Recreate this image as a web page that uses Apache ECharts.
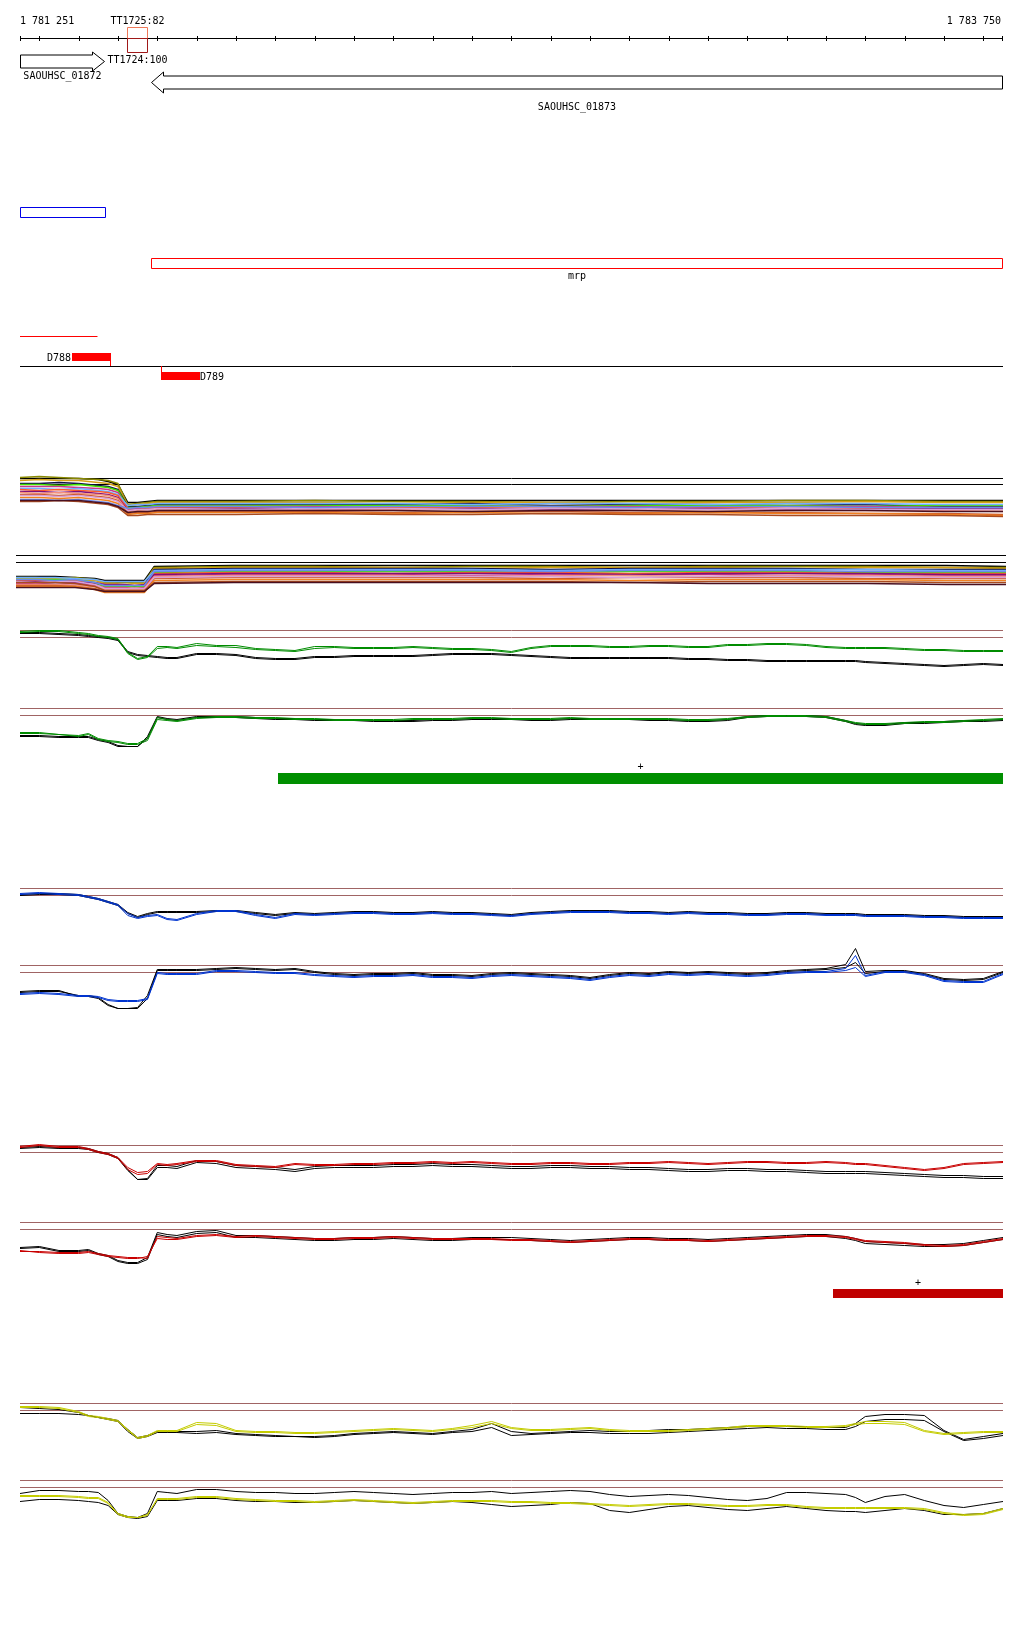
<!DOCTYPE html>
<html><head><meta charset="utf-8">
<script src="https://cdn.jsdelivr.net/npm/echarts@6/dist/echarts.min.js"></script>
<style>html,body{margin:0;padding:0;background:#fff}#c{width:1024px;height:1640px}</style>
</head><body><div id="c"></div><script>
// ---------------- data ----------------
const START = 1781251, END = 1783750;
const RULER_TICKS = [1781251,1781300,1781400,1781500,1781600,1781700,1781800,1781900,1782000,1782100,1782200,1782300,1782400,1782500,1782600,1782700,1782800,1782900,1783000,1783100,1783200,1783300,1783400,1783500,1783600,1783700,1783750];
const GENE_NAMES = ['SAOUHSC_01872','SAOUHSC_01873'];
const GENE_START = [1781251,1781583];
const GENE_END = [1781465,1783750];
const GENE_STRAND = ['+','-'];
const TERM_NAMES = ['TT1725:82','TT1724:100'];
const TERM_START = [1781523,1781523];
const TERM_END = [1781573,1781573];
const TERM_STRAND = ['+','-'];
const BLUE_REGION = [1781251,1781467];
const OPERON_NAME = 'mrp';
const OPERON = [1781583,1783750];
const RED_SEGMENT = [1781251,1781448];
const PROBE_NAMES = ['D788','D789'];
const PROBE_START = [1781383,1781609];
const PROBE_END = [1781482,1781709];
const PROBE_STRAND = ['+','-'];
const GREEN_FEATURE = [1781907,1783750];
const RED_FEATURE = [1783318,1783750];
const FEATURE_LABEL = '+';
const THRESH = [0,-7];
const THRESH_A = [0,-6];

const MC_POS = [1781251,1781300,1781350,1781400,1781450,1781475,1781500,1781525,1781550,1781575,1781600,1781800,1782000,1782200,1782400,1782600,1782800,1783000,1783200,1783400,1783600,1783750];
const MULTI_A = [
[0,0,0,0,-1,-3,-6,-24,-24,-23,-22,-22,-22,-22,-22,-22,-22,-22,-22,-22,-22,-22],
[1,2,1,0,-1,-2,-5,-26,-25,-24,-23,-23,-22,-23,-23,-24,-23,-23,-22,-22,-23,-23],
[-2,-1,-2,-2,-4,-5,-8,-27,-26,-25,-24,-24,-24,-25,-24,-24,-25,-24,-24,-23,-24,-24],
[-5,-5,-4,-5,-7,-8,-11,-28,-28,-27,-26,-26,-26,-26,-25,-27,-26,-26,-27,-26,-28,-28],
[-6,-6,-7,-6,-8,-9,-12,-29,-29,-28,-27,-27,-27,-27,-27,-28,-27,-27,-27,-28,-27,-27],
[-8,-8,-8,-9,-10,-11,-14,-30,-30,-29,-28,-28,-28,-29,-28,-28,-28,-29,-28,-28,-29,-29],
[-10,-10,-11,-10,-12,-13,-16,-27,-26,-26,-25,-25,-25,-25,-26,-25,-25,-26,-25,-25,-26,-26],
[-11,-12,-11,-12,-13,-14,-17,-31,-31,-30,-29,-29,-30,-29,-29,-30,-29,-29,-30,-30,-31,-31],
[-13,-13,-14,-13,-15,-16,-19,-32,-31,-31,-30,-30,-30,-31,-30,-31,-30,-30,-31,-31,-30,-30],
[-14,-15,-14,-15,-16,-17,-20,-33,-32,-31,-31,-31,-32,-31,-31,-32,-32,-31,-32,-32,-32,-33],
[-16,-16,-17,-16,-18,-19,-22,-35,-34,-34,-33,-33,-33,-34,-33,-33,-34,-34,-34,-35,-35,-36],
[-17,-17,-18,-17,-19,-20,-23,-32,-31,-31,-30,-31,-30,-30,-31,-30,-30,-31,-30,-31,-31,-31],
[-19,-19,-20,-19,-21,-22,-25,-36,-35,-35,-34,-34,-34,-35,-34,-35,-35,-34,-35,-35,-36,-37],
[-21,-21,-22,-21,-23,-24,-27,-30,-29,-29,-28,-28,-29,-28,-28,-28,-29,-28,-28,-29,-29,-29],
[-23,-23,-22,-23,-25,-26,-29,-37,-37,-36,-36,-36,-35,-36,-36,-35,-36,-36,-37,-37,-37,-38],
[-22,-22,-22,-22,-24,-25,-28,-34,-33,-33,-32,-32,-32,-32,-33,-32,-32,-33,-32,-32,-33,-33]
];
const MULTI_B = [
[-21,-21,-21,-22,-23,-25,-25,-25,-25,-25,-11,-10,-10,-10,-10,-10,-10,-10,-10,-10,-10,-11],
[-22,-22,-23,-22,-24,-27,-27,-27,-27,-27,-12,-11,-11,-12,-11,-11,-12,-11,-11,-11,-12,-12],
[-23,-23,-23,-24,-25,-28,-28,-29,-28,-28,-13,-12,-12,-12,-13,-12,-12,-12,-13,-12,-12,-13],
[-27,-28,-27,-27,-28,-30,-30,-30,-31,-30,-14,-13,-13,-13,-13,-14,-13,-13,-13,-14,-14,-14],
[-24,-24,-24,-24,-27,-31,-31,-31,-31,-31,-17,-16,-16,-16,-16,-17,-16,-16,-16,-17,-17,-17],
[-28,-28,-29,-28,-30,-32,-32,-32,-33,-32,-20,-19,-19,-19,-20,-19,-19,-19,-20,-19,-20,-20],
[-22,-22,-22,-23,-24,-26,-26,-26,-26,-26,-15,-14,-14,-14,-14,-15,-14,-14,-14,-14,-15,-15],
[-25,-25,-26,-25,-29,-33,-33,-33,-33,-33,-18,-17,-17,-18,-17,-17,-18,-17,-17,-18,-18,-18],
[-26,-26,-26,-27,-27,-29,-29,-29,-30,-29,-19,-18,-18,-18,-18,-18,-19,-18,-18,-18,-19,-19],
[-29,-29,-29,-30,-31,-34,-34,-34,-34,-34,-21,-20,-20,-20,-21,-20,-20,-21,-20,-20,-21,-21],
[-30,-30,-30,-31,-33,-36,-36,-36,-36,-36,-23,-22,-22,-22,-22,-23,-22,-22,-22,-23,-23,-23],
[-26,-27,-26,-26,-29,-33,-33,-33,-33,-33,-22,-21,-21,-21,-21,-21,-22,-21,-21,-21,-22,-22],
[-31,-31,-31,-31,-34,-37,-37,-37,-37,-37,-25,-24,-24,-24,-24,-24,-25,-24,-24,-24,-25,-25],
[-24,-24,-25,-24,-27,-30,-30,-30,-30,-30,-16,-15,-15,-15,-15,-16,-15,-15,-15,-16,-16,-16],
[-27,-27,-27,-28,-31,-35,-35,-35,-35,-35,-27,-26,-26,-26,-26,-26,-27,-26,-26,-26,-27,-27],
[-32,-32,-32,-32,-34,-36,-36,-36,-36,-36,-28,-27,-27,-27,-27,-27,-27,-28,-28,-28,-29,-29]
];

const POS = [1781251,1781300,1781350,1781400,1781425,1781450,1781475,1781500,1781525,1781550,1781575,1781600,1781625,1781650,1781700,1781750,1781800,1781850,1781900,1781950,1782000,1782050,1782100,1782150,1782200,1782250,1782300,1782350,1782400,1782450,1782500,1782550,1782600,1782650,1782700,1782750,1782800,1782850,1782900,1782950,1783000,1783050,1783100,1783150,1783200,1783250,1783300,1783350,1783375,1783400,1783450,1783500,1783550,1783600,1783650,1783700,1783750];

const GREEN_A_1 = [-1,0,0,-2,-3,-5,-6,-8,-22,-28,-26,-16,-16,-17,-13,-15,-15,-18,-19,-20,-16,-16,-17,-17,-17,-16,-17,-18,-18,-19,-21,-17,-15,-15,-15,-16,-16,-15,-15,-16,-16,-14,-14,-13,-13,-14,-16,-17,-17,-17,-17,-18,-19,-19,-20,-20,-20];
const GREEN_A_2 = [-2,-1,-1,-3,-4,-6,-7,-9,-23,-29,-27,-18,-17,-18,-15,-16,-17,-19,-20,-21,-18,-17,-18,-18,-18,-17,-18,-19,-19,-20,-22,-18,-16,-16,-16,-17,-17,-16,-16,-17,-17,-15,-15,-14,-14,-15,-17,-18,-18,-18,-18,-19,-20,-20,-21,-21,-21];
const GREEN_A_REF1 = [-2,-2,-3,-4,-5,-6,-7,-9,-21,-24,-25,-26,-27,-27,-23,-23,-24,-27,-28,-28,-26,-26,-25,-25,-25,-25,-24,-23,-23,-23,-24,-25,-26,-27,-27,-27,-27,-27,-27,-28,-28,-29,-29,-30,-30,-30,-30,-30,-30,-31,-32,-33,-34,-35,-34,-33,-34];
const GREEN_A_REF2 = [-3,-3,-4,-5,-6,-7,-8,-10,-22,-25,-26,-27,-28,-28,-24,-24,-25,-28,-29,-29,-27,-27,-26,-26,-26,-26,-25,-24,-24,-24,-25,-26,-27,-28,-28,-28,-28,-28,-28,-29,-29,-30,-30,-31,-31,-31,-31,-31,-31,-32,-33,-34,-35,-36,-35,-34,-35];
const GREEN_B_1 = [-24,-24,-26,-27,-25,-30,-32,-33,-35,-35,-30,-9,-11,-12,-9,-8,-8,-9,-9,-10,-10,-11,-11,-11,-11,-10,-10,-10,-9,-9,-10,-10,-10,-9,-10,-10,-10,-10,-10,-11,-11,-10,-8,-7,-7,-7,-8,-12,-14,-15,-15,-14,-13,-13,-12,-11,-10];
const GREEN_B_2 = [-25,-25,-26,-28,-26,-31,-33,-34,-36,-36,-32,-11,-12,-13,-10,-9,-9,-10,-10,-11,-11,-12,-12,-12,-12,-11,-11,-11,-10,-10,-11,-11,-11,-10,-11,-11,-11,-11,-11,-12,-12,-11,-9,-8,-8,-8,-9,-13,-15,-16,-16,-15,-14,-14,-13,-12,-11];
const GREEN_B_REF1 = [-27,-27,-28,-28,-28,-31,-33,-37,-38,-38,-28,-8,-10,-11,-8,-8,-8,-9,-10,-10,-11,-11,-11,-12,-12,-12,-11,-11,-10,-10,-10,-11,-11,-10,-10,-10,-10,-11,-11,-12,-12,-11,-8,-7,-7,-7,-8,-12,-15,-16,-16,-14,-14,-13,-12,-12,-11];
const GREEN_B_REF2 = [-28,-28,-29,-29,-29,-32,-34,-38,-38,-38,-30,-9,-11,-12,-9,-9,-9,-10,-11,-11,-12,-12,-12,-13,-13,-13,-12,-12,-11,-11,-11,-12,-12,-11,-11,-11,-11,-12,-12,-13,-13,-12,-9,-8,-8,-8,-9,-13,-16,-17,-17,-15,-15,-14,-13,-13,-12];

const BLUE_A_1 = [-5,-4,-5,-6,-8,-10,-13,-16,-25,-29,-27,-26,-30,-31,-25,-22,-22,-26,-29,-25,-26,-25,-24,-24,-25,-25,-24,-25,-25,-26,-27,-25,-24,-23,-23,-23,-24,-24,-25,-24,-25,-25,-26,-26,-25,-25,-26,-26,-26,-27,-27,-27,-28,-28,-29,-29,-29];
const BLUE_A_2 = [-6,-5,-6,-7,-9,-11,-14,-17,-27,-30,-28,-27,-31,-32,-26,-23,-23,-27,-30,-26,-27,-26,-25,-25,-26,-26,-25,-26,-26,-27,-28,-26,-25,-24,-24,-24,-25,-25,-26,-25,-26,-26,-27,-27,-26,-26,-27,-27,-27,-28,-28,-28,-29,-29,-30,-30,-30];
const BLUE_A_REF1 = [-6,-5,-5,-6,-8,-10,-13,-16,-24,-28,-25,-23,-23,-23,-23,-22,-22,-24,-26,-24,-25,-24,-23,-23,-24,-24,-23,-24,-24,-25,-26,-24,-23,-22,-22,-22,-23,-23,-24,-23,-24,-24,-25,-25,-24,-24,-25,-25,-25,-26,-26,-26,-27,-27,-28,-28,-28];
const BLUE_A_REF2 = [-7,-6,-6,-7,-9,-11,-14,-17,-25,-29,-26,-24,-24,-24,-24,-23,-23,-25,-27,-25,-26,-25,-24,-24,-25,-25,-24,-25,-25,-26,-27,-25,-24,-23,-23,-23,-24,-24,-25,-24,-25,-25,-26,-26,-25,-25,-26,-26,-26,-27,-27,-27,-28,-28,-29,-29,-29];
const BLUE_B_1 = [-28,-27,-28,-30,-30,-31,-34,-35,-35,-35,-33,-7,-8,-8,-8,-5,-5,-6,-7,-7,-9,-10,-11,-10,-10,-9,-11,-11,-12,-10,-9,-10,-11,-12,-14,-11,-9,-10,-8,-9,-8,-9,-10,-9,-7,-6,-6,-3,10,-10,-6,-6,-9,-15,-16,-16,-8];
const BLUE_B_2 = [-29,-28,-29,-31,-31,-32,-35,-36,-36,-36,-34,-8,-9,-9,-9,-6,-6,-7,-8,-8,-10,-11,-12,-11,-11,-10,-12,-12,-13,-11,-10,-11,-12,-13,-15,-12,-10,-11,-9,-10,-9,-10,-11,-10,-8,-7,-7,-5,-2,-11,-7,-7,-10,-16,-17,-17,-9];
const BLUE_B_REF1 = [-26,-25,-25,-31,-30,-32,-39,-43,-43,-42,-30,-4,-4,-4,-4,-3,-2,-3,-4,-3,-6,-8,-9,-8,-8,-7,-9,-9,-10,-8,-7,-8,-9,-10,-12,-9,-7,-8,-6,-7,-6,-7,-8,-7,-5,-4,-3,1,17,-6,-5,-5,-8,-13,-14,-13,-6];
const BLUE_B_REF2 = [-27,-26,-26,-30,-31,-33,-40,-43,-43,-43,-33,-5,-5,-5,-5,-4,-3,-4,-5,-4,-7,-9,-10,-9,-9,-8,-10,-10,-11,-9,-8,-9,-10,-11,-13,-10,-8,-9,-7,-8,-7,-8,-9,-8,-6,-5,-4,-2,3,-8,-6,-6,-9,-14,-15,-14,-7];

const RED_A_1 = [-1,1,-1,-1,-3,-6,-8,-12,-22,-27,-26,-18,-19,-18,-15,-15,-19,-20,-21,-18,-19,-19,-18,-18,-17,-17,-16,-17,-16,-17,-18,-18,-17,-17,-18,-18,-17,-17,-16,-17,-18,-17,-16,-16,-17,-17,-16,-17,-18,-18,-20,-22,-24,-22,-18,-17,-16];
const RED_A_2 = [-2,0,-2,-2,-4,-7,-9,-13,-24,-29,-28,-19,-20,-19,-16,-16,-20,-21,-22,-19,-20,-20,-19,-19,-18,-18,-17,-18,-17,-18,-19,-19,-18,-18,-19,-19,-18,-18,-17,-18,-19,-18,-17,-17,-18,-18,-17,-18,-19,-19,-21,-23,-25,-23,-19,-18,-17];
const RED_A_REF1 = [-2,-1,-2,-2,-3,-6,-8,-12,-24,-34,-33,-20,-20,-21,-15,-16,-20,-21,-22,-24,-21,-20,-20,-20,-19,-19,-18,-19,-19,-20,-21,-21,-20,-20,-21,-21,-22,-22,-23,-24,-24,-23,-23,-24,-24,-25,-26,-26,-26,-26,-27,-28,-29,-30,-30,-31,-31];
const RED_A_REF2 = [-3,-2,-3,-3,-4,-7,-9,-13,-25,-34,-34,-22,-22,-23,-17,-18,-22,-23,-24,-26,-23,-22,-22,-22,-21,-21,-20,-21,-21,-22,-23,-23,-22,-22,-23,-23,-24,-24,-25,-26,-26,-25,-25,-26,-26,-27,-28,-28,-28,-28,-29,-30,-31,-32,-32,-33,-33];
const RED_B_1 = [-29,-29,-30,-30,-29,-31,-33,-34,-35,-35,-36,-14,-15,-16,-13,-12,-14,-13,-14,-15,-16,-16,-15,-15,-14,-15,-16,-16,-16,-16,-17,-17,-18,-19,-18,-17,-16,-16,-17,-17,-18,-17,-16,-15,-14,-13,-13,-14,-16,-18,-19,-20,-22,-23,-22,-19,-16];
const RED_B_2 = [-28,-30,-31,-31,-30,-32,-34,-35,-36,-36,-34,-16,-17,-17,-14,-13,-15,-14,-15,-16,-17,-17,-16,-16,-15,-16,-17,-17,-17,-17,-18,-18,-19,-20,-19,-18,-17,-17,-18,-18,-19,-18,-17,-16,-15,-14,-14,-15,-17,-19,-20,-21,-23,-24,-23,-20,-17];
const RED_B_REF1 = [-25,-24,-28,-28,-27,-31,-33,-38,-40,-40,-35,-10,-12,-13,-9,-8,-13,-13,-14,-15,-16,-16,-15,-15,-14,-15,-16,-16,-15,-15,-15,-16,-17,-18,-17,-16,-15,-15,-16,-16,-17,-16,-15,-14,-13,-12,-12,-14,-16,-19,-20,-21,-22,-22,-21,-18,-15];
const RED_B_REF2 = [-26,-25,-29,-29,-28,-32,-34,-39,-41,-41,-37,-12,-14,-15,-11,-10,-15,-15,-16,-17,-18,-18,-17,-17,-16,-17,-18,-18,-17,-17,-17,-18,-19,-20,-19,-18,-17,-17,-18,-18,-19,-18,-17,-16,-15,-14,-14,-16,-18,-21,-22,-23,-24,-24,-23,-20,-17];

const YEL_A_1 = [-3,-3,-4,-8,-12,-13,-15,-17,-26,-34,-32,-27,-27,-27,-19,-20,-27,-28,-28,-29,-29,-28,-27,-26,-25,-26,-27,-25,-22,-18,-24,-26,-26,-25,-24,-26,-27,-27,-27,-26,-25,-24,-22,-22,-22,-23,-23,-22,-20,-18,-18,-19,-27,-30,-29,-28,-28];
const YEL_A_2 = [-4,-4,-5,-9,-13,-14,-16,-18,-27,-35,-33,-28,-28,-28,-21,-22,-28,-29,-29,-30,-30,-29,-28,-27,-26,-27,-28,-26,-24,-20,-25,-27,-27,-26,-25,-27,-28,-28,-28,-27,-26,-25,-23,-23,-23,-24,-24,-23,-21,-20,-20,-21,-28,-31,-30,-29,-29];
const YEL_A_REF1 = [-4,-5,-6,-9,-12,-14,-15,-17,-26,-34,-32,-28,-28,-28,-28,-27,-30,-31,-32,-33,-33,-32,-30,-29,-28,-29,-30,-28,-26,-20,-28,-30,-29,-28,-27,-28,-28,-27,-26,-26,-25,-24,-23,-23,-23,-23,-24,-24,-20,-13,-11,-11,-12,-27,-36,-33,-30];
const YEL_A_REF2 = [-10,-10,-10,-11,-12,-14,-16,-18,-28,-35,-33,-29,-29,-29,-30,-29,-31,-32,-33,-33,-34,-33,-31,-30,-29,-30,-31,-29,-28,-24,-32,-31,-30,-29,-29,-30,-30,-30,-29,-28,-27,-26,-25,-24,-25,-25,-26,-26,-23,-18,-16,-16,-17,-28,-37,-35,-32];
const YEL_B_1 = [-15,-15,-15,-16,-17,-17,-22,-33,-36,-37,-35,-18,-18,-18,-16,-16,-18,-19,-20,-20,-21,-20,-19,-20,-21,-22,-21,-20,-20,-20,-21,-21,-22,-22,-23,-24,-25,-24,-23,-23,-24,-25,-25,-24,-24,-26,-27,-27,-27,-27,-27,-27,-28,-32,-34,-33,-28];
const YEL_B_2 = [-16,-16,-16,-17,-18,-18,-23,-34,-37,-37,-34,-19,-19,-19,-17,-17,-19,-20,-21,-21,-22,-21,-20,-21,-22,-23,-22,-21,-21,-21,-22,-22,-23,-23,-24,-25,-26,-25,-24,-24,-25,-26,-26,-25,-25,-27,-28,-28,-28,-28,-28,-28,-29,-33,-35,-34,-29];
const YEL_B_REF1 = [-13,-10,-10,-11,-11,-12,-20,-33,-36,-37,-33,-11,-12,-13,-9,-9,-11,-12,-12,-13,-13,-12,-11,-12,-13,-14,-13,-12,-12,-11,-13,-12,-11,-10,-11,-14,-16,-15,-14,-15,-17,-19,-20,-18,-12,-12,-13,-14,-17,-22,-16,-14,-20,-25,-27,-24,-21];
const YEL_B_REF2 = [-21,-19,-19,-20,-21,-22,-25,-34,-37,-38,-36,-20,-20,-20,-18,-18,-20,-21,-21,-22,-22,-21,-20,-21,-22,-23,-22,-21,-22,-24,-26,-25,-24,-22,-23,-30,-32,-29,-26,-25,-27,-29,-30,-28,-26,-28,-30,-31,-31,-32,-30,-28,-30,-34,-34,-33,-28];

// ---------------- styles / layout ----------------
const FONT = '10px "DejaVu Sans Mono", "Liberation Mono", monospace';
const CHAR_W = 6.02;
const BROWN = '#a06464';
const MC_COLORS = ['#000000','#8a8a00','#d4a017','#101048','#44e000','#c8388c','#70b0ff','#ff5a28','#80107a','#f4907c','#cc5a2c','#d8a0d8','#f08020','#6a8ae8','#a84a20','#4a1020'];

const grids = [], xAxes = [], yAxes = [], series = [];
function addGrid(top, height, ymin, ymax, left, right) {
  const i = grids.length;
  grids.push({left: left == null ? 20 : left, right: right == null ? 21 : right, top, height, show: false});
  xAxes.push({type: 'value', gridIndex: i, min: START, max: END, show: false});
  yAxes.push({type: 'value', gridIndex: i, min: ymin, max: ymax, show: false});
  return i;
}
const snap = v => Math.round(v) + 0.5;
function xOf(api, v) { return api.coord([v, 0])[0]; }
function txt(x, y, text, align, color) {
  return {type: 'text', x, y: y + 1, style: {text, fill: color || '#000', font: FONT, align: align || 'center', verticalAlign: 'middle', textAlign: align || 'center', textVerticalAlign: 'middle'}};
}
function custom(gi, data, renderItem, z) {
  series.push({type: 'custom', xAxisIndex: gi, yAxisIndex: gi, data, renderItem, silent: true, animation: false, clip: false, z: z || 2});
}
const fmt = n => String(n).replace(/\B(?=(\d{3})+(?!\d))/g, ' ');

// ruler
const gR = addGrid(27, 25, 0, 1);
custom(gR, [[START, END]], (p, api) => {
  const cs = p.coordSys, y = snap(cs.y + 11);
  const x0 = xOf(api, api.value(0)), x1 = xOf(api, api.value(1));
  return {type: 'group', children: [
    {type: 'line', shape: {x1: x0, y1: y, x2: x1, y2: y}, style: {stroke: '#000', lineWidth: 1}},
    txt(x0, cs.y - 6.5, fmt(api.value(0)), 'left'),
    txt(x1 - 2, cs.y - 6.5, fmt(api.value(1)), 'right')
  ]};
});
custom(gR, RULER_TICKS.map(v => [v]), (p, api) => {
  const cs = p.coordSys, x = snap(Math.min(xOf(api, api.value(0)), cs.x + cs.width - 0.6));
  return {type: 'line', shape: {x1: x, y1: cs.y + 9, x2: x, y2: cs.y + 14}, style: {stroke: '#000', lineWidth: 1}};
});
custom(gR, TERM_START.map((s, i) => [s, TERM_END[i]]), (p, api) => {
  const cs = p.coordSys, i = p.dataIndex;
  const x0 = snap(xOf(api, api.value(0))), x1 = snap(xOf(api, api.value(1)));
  const plus = TERM_STRAND[i] === '+';
  const y0 = plus ? cs.y + 0.5 : cs.y + 11.5, y1 = plus ? cs.y + 11.5 : cs.y + 25.5;
  const col = plus ? '#f07858' : '#a01818';
  return {type: 'group', children: [
    {type: 'rect', shape: {x: x0, y: y0, width: x1 - x0, height: y1 - y0}, style: {fill: null, stroke: col, lineWidth: 1}},
    txt((x0 + x1) / 2, plus ? cs.y - 6.5 : cs.y + 32.5, TERM_NAMES[i])
  ]};
}, 5);

// genes
const gG = addGrid(48, 62, 0, 1);
custom(gG, GENE_START.map((s, i) => [s, GENE_END[i]]), (p, api) => {
  const cs = p.coordSys, i = p.dataIndex;
  const x0 = snap(xOf(api, api.value(0))), x1 = snap(xOf(api, api.value(1)) - 0.6);
  const plus = GENE_STRAND[i] === '+';
  const cy = plus ? cs.y + 13.5 : cs.y + 34.5;
  const bh = 6.5, hh = plus ? 9.5 : 10.5, hl = 12;
  let pts;
  if (plus) { const xh = x1 - hl; pts = [[x0, cy - bh], [xh, cy - bh], [xh, cy - hh], [x1, cy], [xh, cy + hh], [xh, cy + bh], [x0, cy + bh]]; }
  else { const xh = x0 + hl; pts = [[x1, cy - bh], [xh, cy - bh], [xh, cy - hh], [x0, cy], [xh, cy + hh], [xh, cy + bh], [x1, cy + bh]]; }
  const name = GENE_NAMES[i], w = name.length * CHAR_W;
  let cx = (x0 + x1) / 2; if (cx - w / 2 < cs.x + 2) cx = cs.x + 2 + w / 2;
  return {type: 'group', children: [
    {type: 'polygon', shape: {points: pts}, style: {fill: '#fff', stroke: '#000', lineWidth: 1}},
    txt(cx, plus ? cs.y + 27.5 : cs.y + 58, name)
  ]};
});

// blue region
const gB = addGrid(207, 10, 0, 1);
custom(gB, [BLUE_REGION], (p, api) => {
  const cs = p.coordSys, x0 = snap(xOf(api, api.value(0))), x1 = snap(xOf(api, api.value(1)));
  return {type: 'rect', shape: {x: x0, y: cs.y + 0.5, width: x1 - x0, height: 10}, style: {fill: null, stroke: '#0000e8', lineWidth: 1}};
});

// operon
const gO = addGrid(258, 10, 0, 1);
custom(gO, [OPERON], (p, api) => {
  const cs = p.coordSys, x0 = snap(xOf(api, api.value(0))), x1 = snap(xOf(api, api.value(1)) - 0.6);
  return {type: 'group', children: [
    {type: 'rect', shape: {x: x0, y: cs.y + 0.5, width: x1 - x0, height: 10}, style: {fill: null, stroke: '#ff0000', lineWidth: 1}},
    txt((x0 + x1) / 2, cs.y + 17, OPERON_NAME)
  ]};
});

// probes
const gP = addGrid(320, 62, 0, 1);
custom(gP, [RED_SEGMENT], (p, api) => {
  const cs = p.coordSys, y = snap(cs.y + 16);
  return {type: 'line', shape: {x1: xOf(api, api.value(0)), y1: y, x2: xOf(api, api.value(1)), y2: y}, style: {stroke: '#ff0000', lineWidth: 1}};
});
custom(gP, [[START, END]], (p, api) => {
  const cs = p.coordSys, y = snap(cs.y + 46);
  return {type: 'line', shape: {x1: xOf(api, api.value(0)), y1: y, x2: xOf(api, api.value(1)), y2: y}, style: {stroke: '#000', lineWidth: 1}};
});
custom(gP, PROBE_START.map((s, i) => [s, PROBE_END[i]]), (p, api) => {
  const cs = p.coordSys, i = p.dataIndex;
  const x0 = Math.round(xOf(api, api.value(0))), x1 = Math.round(xOf(api, api.value(1)));
  const plus = PROBE_STRAND[i] === '+';
  const base = cs.y + 46;
  if (plus) {
    return {type: 'group', children: [
      {type: 'rect', shape: {x: x0, y: cs.y + 33, width: x1 - x0, height: 8}, style: {fill: '#ff0000'}},
      {type: 'line', shape: {x1: x1 - 0.5, y1: cs.y + 41, x2: x1 - 0.5, y2: base}, style: {stroke: '#ff0000', lineWidth: 1}},
      txt(x0 - 1, cs.y + 37.5, PROBE_NAMES[i], 'right')
    ]};
  }
  return {type: 'group', children: [
    {type: 'rect', shape: {x: x0, y: cs.y + 52, width: x1 - x0, height: 8}, style: {fill: '#ff0000'}},
    {type: 'line', shape: {x1: x0 + 0.5, y1: base, x2: x0 + 0.5, y2: cs.y + 52}, style: {stroke: '#ff0000', lineWidth: 1}},
    txt(x1, cs.y + 56, PROBE_NAMES[i], 'left')
  ]};
});

// feature bars
function featureBar(top, h, range, color) {
  const g = addGrid(top, h, 0, 1);
  custom(g, [range], (p, api) => {
    const cs = p.coordSys, x0 = Math.round(xOf(api, api.value(0))), x1 = Math.round(xOf(api, api.value(1)));
    return {type: 'group', children: [
      {type: 'rect', shape: {x: x0, y: cs.y, width: x1 - x0, height: cs.height}, style: {fill: color}},
      txt((x0 + x1) / 2, cs.y - 7, FEATURE_LABEL)
    ]};
  });
}
featureBar(773, 11, GREEN_FEATURE, '#008f00');
featureBar(1289, 9, RED_FEATURE, '#c00000');

// expression panels
function panel(threshY, pos, lines, thresh, thColor, width, left, right) {
  const g = addGrid(threshY - 19.5, 70, -50, 20, left, right);
  lines.forEach((ln, k) => {
    const s = {type: 'line', xAxisIndex: g, yAxisIndex: g, data: pos.map((x, j) => [x, ln.d[j]]),
      showSymbol: false, symbol: 'none', smooth: false, clip: false, silent: true, animation: false,
      lineStyle: {width, color: ln.c}, z: 3};
    if (k === 0) s.markLine = {silent: true, symbol: 'none', animation: false, label: {show: false},
      lineStyle: {color: thColor, width: 1, type: 'solid'}, data: thresh.map(v => ({yAxis: v})), z: 2};
    series.push(s);
  });
}
panel(478, MC_POS, MULTI_A.map((d, k) => ({d, c: MC_COLORS[k]})), THRESH_A, '#000', 1.5);
panel(555, MC_POS, MULTI_B.map((d, k) => ({d, c: MC_COLORS[k]})), THRESH, '#000', 1.5, 16, 18);
const GREEN = '#008c00', BLUE = '#0034d0', RED = '#c80000', YEL = '#c4cc00', BLK = '#000';
panel(630, POS, [{d: GREEN_A_REF1, c: BLK}, {d: GREEN_A_REF2, c: BLK}, {d: GREEN_A_1, c: GREEN}, {d: GREEN_A_2, c: GREEN}], THRESH, BROWN, 1);
panel(708, POS, [{d: GREEN_B_REF1, c: BLK}, {d: GREEN_B_REF2, c: BLK}, {d: GREEN_B_1, c: GREEN}, {d: GREEN_B_2, c: GREEN}], THRESH, BROWN, 1);
panel(888, POS, [{d: BLUE_A_REF1, c: BLK}, {d: BLUE_A_REF2, c: BLK}, {d: BLUE_A_1, c: BLUE}, {d: BLUE_A_2, c: BLUE}], THRESH, BROWN, 1);
panel(965, POS, [{d: BLUE_B_REF1, c: BLK}, {d: BLUE_B_REF2, c: BLK}, {d: BLUE_B_1, c: BLUE}, {d: BLUE_B_2, c: BLUE}], THRESH, BROWN, 1);
panel(1145, POS, [{d: RED_A_REF1, c: BLK}, {d: RED_A_REF2, c: BLK}, {d: RED_A_1, c: RED}, {d: RED_A_2, c: RED}], THRESH, BROWN, 1);
panel(1222, POS, [{d: RED_B_REF1, c: BLK}, {d: RED_B_REF2, c: BLK}, {d: RED_B_1, c: RED}, {d: RED_B_2, c: RED}], THRESH, BROWN, 1);
panel(1403, POS, [{d: YEL_A_REF1, c: BLK}, {d: YEL_A_REF2, c: BLK}, {d: YEL_A_1, c: YEL}, {d: YEL_A_2, c: YEL}], THRESH, BROWN, 1);
panel(1480, POS, [{d: YEL_B_REF1, c: BLK}, {d: YEL_B_REF2, c: BLK}, {d: YEL_B_1, c: YEL}, {d: YEL_B_2, c: YEL}], THRESH, BROWN, 1);

const chart = echarts.init(document.getElementById('c'), null, {renderer: 'canvas'});
chart.setOption({animation: false, backgroundColor: '#fff', grid: grids, xAxis: xAxes, yAxis: yAxes, series});
</script></body></html>
